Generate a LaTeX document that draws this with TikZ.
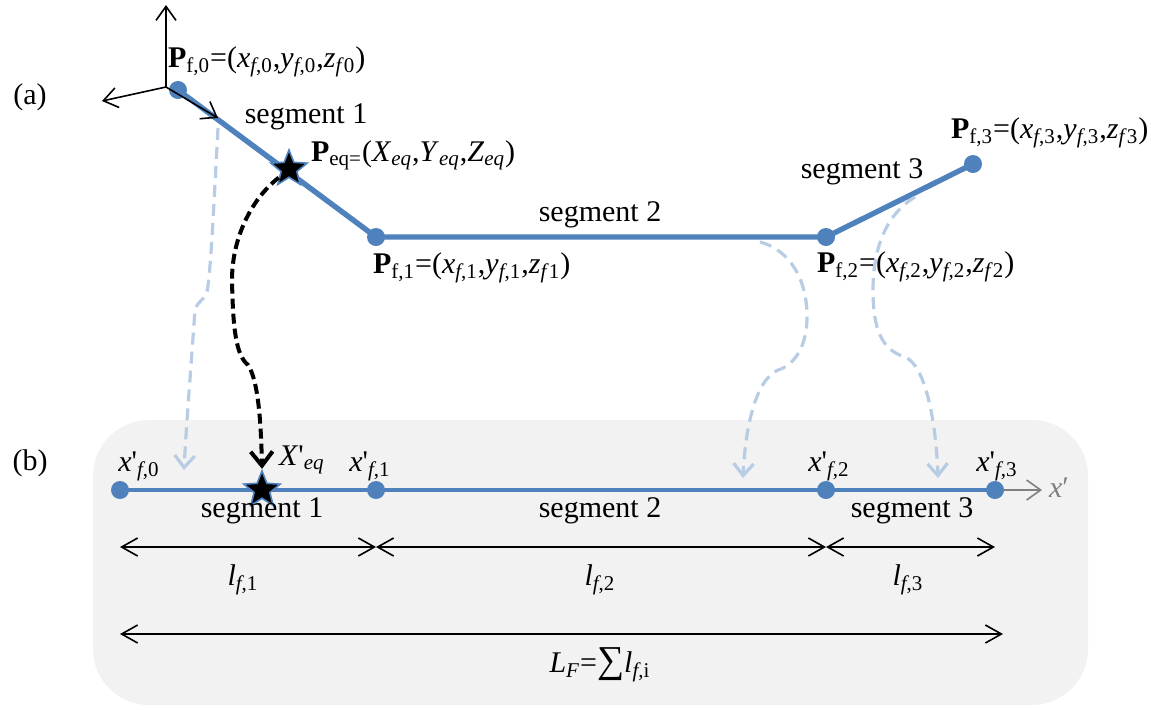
\documentclass[tikz,border=0pt]{standalone}
\usepackage{fontspec}
\setmainfont{Liberation Serif}
\usetikzlibrary{arrows.meta,shapes.geometric}
\definecolor{fibreblue}{RGB}{79,129,189}
\definecolor{paleblue}{RGB}{184,204,228}
\definecolor{panelgray}{RGB}{242,242,242}
\newcommand{\sbs}[1]{\textsubscript{#1}}
\newcommand{\xp}{\textit{x}\textquotesingle}

\begin{document}
\begin{tikzpicture}[x=0.5pt,y=-0.5pt,
    font=\fontsize{15}{17}\selectfont,
    dot/.style={circle,fill=fibreblue,inner sep=0pt,minimum size=9pt},
    eqstar/.style={star,star points=5,star point ratio=2.3,fill=black,
      draw=fibreblue,line width=0.8pt,inner sep=0pt,minimum size=19pt},
    fibre/.style={fibreblue,line width=2.7pt},
    barb/.style={-{Straight Barb[length=7pt,width=10pt]}},
    dimline/.style={line width=0.8pt,{Straight Barb[length=8pt,width=9pt]}-{Straight Barb[length=8pt,width=9pt]}},
    mapcurve/.style={paleblue,line width=1.6pt,dash pattern=on 6pt off 3.5pt,
      -{Straight Barb[length=6pt,width=10pt]}},
    eqcurve/.style={black,line width=2pt,dash pattern=on 5pt off 2.5pt,
      -{Straight Barb[length=7pt,width=11pt]}}]
  \useasboundingbox (0,0) rectangle (1151,709);

  % panel (b)
  \fill[panelgray,rounded corners=28pt] (93,420) rectangle (1088,705);
  \node (lbla) at (30,97) {(a)};
  \node (lblb) at (30,463) {(b)};

  % (a) fibre in space
  \node[dot] (p0) at (178,90) {};
  \node[dot] (p1) at (376,237) {};
  \node[dot] (p2) at (826,237) {};
  \node[dot] (p3) at (973,164) {};
  \draw[fibre] (p0.center) -- (p1.center) -- (p2.center) -- (p3.center);
  \node[eqstar] (peq) at (289,169) {};

  % local axes at the first point
  \coordinate (ax) at (166,87);
  \coordinate (axz) at (166,5);
  \coordinate (axy) at (102,101);
  \coordinate (axx) at (218,118);
  \draw[line width=0.8pt,barb] (ax) -- (axz);
  \draw[line width=0.8pt,barb] (ax) -- (axy);
  \draw[line width=0.8pt,barb] (ax) -- (axx);

  \node[anchor=west] (p0lbl) at (161,62) {\textbf{P}\sbs{f,0}=(\textit{x}\sbs{\textit{f},0},\textit{y}\sbs{\textit{f},0},\textit{z}\sbs{\textit{f}0})};
  \node (seg1a) at (306,117) {segment 1};
  \node[anchor=west] (peqlbl) at (304,155) {\textbf{P}\sbs{eq=}(\textit{X}\sbs{\textit{eq}},\textit{Y}\sbs{\textit{eq}},\textit{Z}\sbs{\textit{eq}})};
  \node (seg2a) at (600,215) {segment 2};
  \node[anchor=west] (p1lbl) at (366,268) {\textbf{P}\sbs{f,1}=(\textit{x}\sbs{\textit{f},1},\textit{y}\sbs{\textit{f},1},\textit{z}\sbs{\textit{f}1})};
  \node (seg3a) at (862,172) {segment 3};
  \node[anchor=west] (p3lbl) at (944,133) {\textbf{P}\sbs{f,3}=(\textit{x}\sbs{\textit{f},3},\textit{y}\sbs{\textit{f},3},\textit{z}\sbs{\textit{f}3})};
  \node[anchor=west] (p2lbl) at (810,267) {\textbf{P}\sbs{f,2}=(\textit{x}\sbs{\textit{f},2},\textit{y}\sbs{\textit{f},2},\textit{z}\sbs{\textit{f}2})};

  % (b) unrolled fibre
  \node[dot] (b0) at (120,490) {};
  \node[dot] (b1) at (376,490) {};
  \node[dot] (b2) at (826,490) {};
  \node[dot] (b3) at (995,490) {};
  \draw[fibreblue,line width=2.2pt] (b0.center) -- (b3.center);
  \node[eqstar] (beq) at (262,490) {};
  \coordinate (xend) at (1042,490);
  \draw[gray,line width=0.8pt,barb] (b3) -- (xend);
  \node[gray,anchor=west] (xlbl) at (1042,488) {\textit{x}′};

  \node (b0lbl) at (139,466) {\xp\sbs{\textit{f},0}};
  \node[anchor=west] (beqlbl) at (272,460) {\textit{X}\textquotesingle\sbs{\textit{eq}}};
  \node (b1lbl) at (370,466) {\xp\sbs{\textit{f},1}};
  \node (b2lbl) at (829,466) {\xp\sbs{\textit{f},2}};
  \node (b3lbl) at (997,466) {\xp\sbs{\textit{f},3}};
  \node (seg1b) at (262,511) {segment 1};
  \node (seg2b) at (600,511) {segment 2};
  \node (seg3b) at (912,511) {segment 3};

  % lengths
  \coordinate (d0) at (120,547);
  \coordinate (d1) at (376,547);
  \coordinate (d2) at (826,547);
  \coordinate (d3) at (995,547);
  \draw[dimline] (d0) -- (d1);
  \draw[dimline] (d1) -- (d2);
  \draw[dimline] (d2) -- (d3);
  \node (l1) at (243,580) {\textit{l}\sbs{\textit{f},1}};
  \node (l2) at (600,580) {\textit{l}\sbs{\textit{f},2}};
  \node (l3) at (908,580) {\textit{l}\sbs{\textit{f},3}};
  \coordinate (t0) at (120,634);
  \coordinate (t1) at (1003,634);
  \draw[dimline] (t0) -- (t1);
  \node (ltot) at (600,665) {\textit{L}\sbs{\textit{F}}={\fontsize{19}{19}\selectfont∑}\textit{l}\sbs{\textit{f},i}};

  % mapping from (a) to (b)
  \coordinate (m1s) at (218,128);
  \coordinate (m1e) at (184,470);
  \coordinate (m2s) at (760,242);
  \coordinate (m2e) at (743,478);
  \coordinate (m3s) at (915,197);
  \coordinate (m3e) at (938,478);
  \draw[mapcurve] (m1s) .. controls (214,200) and (211,270) .. (207,292)
    .. controls (205,300) and (198,300) .. (195,310)
    .. controls (190,380) and (186,430) .. (m1e);
  \draw[mapcurve] (m2s) .. controls (790,250) and (808,280) .. (807,320)
    .. controls (806,350) and (792,366) .. (778,370)
    .. controls (755,380) and (745,430) .. (m2e);
  \draw[mapcurve] (m3s) .. controls (885,215) and (873,250) .. (873,290)
    .. controls (873,330) and (882,350) .. (905,357)
    .. controls (925,365) and (936,420) .. (m3e);
  \draw[eqcurve] (peq.220) .. controls (250,200) and (232,240) .. (232,280)
    .. controls (233,330) and (236,355) .. (248,365)
    .. controls (258,380) and (261,420) .. (beq.north);
\end{tikzpicture}
\end{document}
